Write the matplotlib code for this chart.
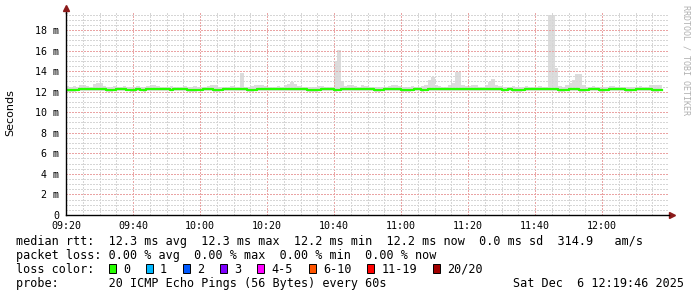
import numpy as np
import matplotlib
matplotlib.use('Agg')
import matplotlib.pyplot as plt
from matplotlib.patches import Rectangle

# one value per minute, starting 09:20
median_rtt = [
    12.2, 12.2, 12.2, 12.2, 12.3, 12.3, 12.3, 12.3, 12.3, 12.3, 12.3, 12.3, 12.2, 12.2, 12.2, 12.3, 12.3, 12.3, 12.2, 12.2,
    12.2, 12.3, 12.2, 12.2, 12.3, 12.3, 12.3, 12.3, 12.3, 12.3, 12.3, 12.2, 12.3, 12.3, 12.3, 12.3, 12.2, 12.2, 12.2, 12.2,
    12.2, 12.3, 12.3, 12.3, 12.2, 12.2, 12.2, 12.3, 12.3, 12.3, 12.3, 12.3, 12.3, 12.3, 12.2, 12.2, 12.2, 12.3, 12.3, 12.3,
    12.3, 12.3, 12.3, 12.3, 12.3, 12.3, 12.3, 12.3, 12.3, 12.3, 12.3, 12.3, 12.2, 12.2, 12.2, 12.2, 12.3, 12.3, 12.3, 12.3,
    12.2, 12.2, 12.3, 12.3, 12.3, 12.3, 12.3, 12.3, 12.3, 12.3, 12.3, 12.3, 12.2, 12.2, 12.2, 12.3, 12.3, 12.3, 12.3, 12.3,
    12.2, 12.2, 12.2, 12.2, 12.3, 12.3, 12.2, 12.2, 12.3, 12.3, 12.3, 12.3, 12.3, 12.3, 12.3, 12.3, 12.3, 12.3, 12.3, 12.3,
    12.3, 12.3, 12.3, 12.3, 12.3, 12.3, 12.3, 12.3, 12.3, 12.3, 12.2, 12.2, 12.3, 12.2, 12.2, 12.2, 12.2, 12.3, 12.3, 12.3,
    12.3, 12.3, 12.3, 12.3, 12.3, 12.3, 12.3, 12.2, 12.2, 12.2, 12.3, 12.3, 12.3, 12.2, 12.2, 12.2, 12.3, 12.3, 12.3, 12.2,
    12.2, 12.2, 12.3, 12.3, 12.3, 12.3, 12.3, 12.2, 12.2, 12.2, 12.3, 12.3, 12.3, 12.3, 12.3, 12.2, 12.2, 12.2,
]
smoke_max = [
    12.55, 12.5, 12.55, 12.5, 12.6, 12.6, 12.55, 12.5, 12.7, 12.85, 12.85, 12.55, 12.5, 12.5, 12.55, 12.5, 12.5, 12.55, 12.5, 12.5,
    12.5, 12.55, 12.5, 12.5, 12.55, 12.6, 12.6, 12.55, 12.5, 12.5, 12.5, 12.55, 12.5, 12.5, 12.5, 12.55, 12.5, 12.5, 12.55, 12.5,
    12.5, 12.5, 12.55, 12.6, 12.6, 12.5, 12.5, 12.5, 12.5, 12.55, 12.5, 12.5, 13.8, 12.5, 12.5, 12.55, 12.6, 12.6, 12.6, 12.55,
    12.5, 12.5, 12.5, 12.55, 12.5, 12.6, 12.75, 12.95, 12.7, 12.55, 12.5, 12.5, 12.5, 12.5, 12.5, 12.55, 12.55, 12.5, 12.5, 12.5,
    15.0, 16.05, 13.0, 12.55, 12.6, 12.6, 12.55, 12.5, 12.6, 12.55, 12.5, 12.5, 12.5, 12.5, 12.5, 12.5, 12.55, 12.6, 12.6, 12.55,
    12.5, 12.5, 12.5, 12.55, 12.5, 12.5, 12.55, 12.6, 13.1, 13.4, 12.6, 12.55, 12.5, 12.5, 12.6, 12.8, 13.9, 13.9, 12.6, 12.55,
    12.55, 12.6, 12.6, 12.5, 12.5, 12.6, 12.9, 13.2, 12.6, 12.55, 12.5, 12.5, 12.5, 12.55, 12.5, 12.5, 12.5, 12.55, 12.5, 12.5,
    12.5, 12.55, 12.5, 12.5, 19.45, 19.45, 14.3, 12.55, 12.5, 12.6, 12.8, 13.1, 13.7, 13.7, 12.6, 12.5, 12.5, 12.55, 12.5, 12.5,
    12.5, 12.5, 12.55, 12.55, 12.5, 12.5, 12.5, 12.5, 12.5, 12.5, 12.5, 12.55, 12.5, 12.5, 12.6, 12.65, 12.65, 12.65,
]
smoke_min = [
    12.0, 12.0, 12.0, 12.05, 12.1, 12.1, 12.1, 12.1, 12.1, 12.1, 12.1, 12.1, 12.0, 12.0, 12.05, 12.1, 12.1, 12.1, 12.05, 12.0,
    12.0, 12.1, 12.05, 12.0, 12.1, 12.1, 12.1, 12.1, 12.1, 12.1, 12.1, 12.05, 12.1, 12.1, 12.1, 12.1, 12.0, 12.0, 12.0, 12.05,
    12.05, 12.1, 12.1, 12.1, 12.0, 12.0, 12.05, 12.1, 12.1, 12.1, 12.1, 12.1, 12.1, 12.1, 12.0, 12.0, 12.05, 12.1, 12.1, 12.1,
    12.1, 12.1, 12.1, 12.1, 12.1, 12.1, 12.1, 12.1, 12.1, 12.1, 12.1, 12.1, 12.0, 12.0, 12.0, 12.05, 12.1, 12.1, 12.1, 12.1,
    12.0, 12.05, 12.1, 12.1, 12.1, 12.1, 12.1, 12.1, 12.1, 12.1, 12.1, 12.1, 12.0, 12.0, 12.05, 12.1, 12.1, 12.1, 12.1, 12.1,
    12.0, 12.0, 12.0, 12.05, 12.1, 12.1, 12.0, 12.05, 12.1, 12.1, 12.1, 12.1, 12.1, 12.1, 12.1, 12.1, 12.1, 12.1, 12.1, 12.1,
    12.1, 12.1, 12.1, 12.1, 12.1, 12.1, 12.1, 12.1, 12.1, 12.1, 12.0, 12.05, 12.1, 12.0, 12.0, 12.0, 12.05, 12.1, 12.1, 12.1,
    12.1, 12.1, 12.1, 12.1, 12.1, 12.1, 12.1, 12.0, 12.0, 12.05, 12.1, 12.1, 12.1, 12.0, 12.0, 12.05, 12.1, 12.1, 12.1, 12.0,
    12.0, 12.05, 12.1, 12.1, 12.1, 12.1, 12.1, 12.0, 12.0, 12.05, 12.1, 12.1, 12.1, 12.1, 12.1, 12.0, 12.0, 12.05,
]

x_tick_min = [0, 20, 40, 60, 80, 100, 120, 140, 160]
x_tick_labels = ['09:20', '09:40', '10:00', '10:20', '10:40', '11:00', '11:20', '11:40', '12:00']
y_ticks = [0, 2, 4, 6, 8, 10, 12, 14, 16, 18]
y_tick_labels = ['0', '2 m', '4 m', '6 m', '8 m', '10 m', '12 m', '14 m', '16 m', '18 m']

loss_labels = ['0', '1', '2', '3', '4-5', '6-10', '11-19', '20/20']
loss_colors = ['#26ff00', '#00b8ff', '#0059ff', '#7e00ff', '#ff00ff', '#ff5500', '#ff0000', '#a10000']

stats_line1 = 'median rtt:  12.3 ms avg  12.3 ms max  12.2 ms min  12.2 ms now  0.0 ms sd  314.9   am/s'
stats_line2 = 'packet loss: 0.00 % avg  0.00 % max  0.00 % min  0.00 % now'
probe_line = 'probe:       20 ICMP Echo Pings (56 Bytes) every 60s'
stamp = 'Sat Dec  6 12:19:46 2025'

W, H = 697, 297
MONO = 'DejaVu Sans Mono'
fig = plt.figure(figsize=(W / 100, H / 100), dpi=100)
fig.patch.set_facecolor('white')
ax = fig.add_axes([66 / W, 1 - 215 / H, (669 - 66) / W, (215 - 13) / H])

t = np.arange(len(median_rtt) + 1)
ax.fill_between(t, smoke_min + smoke_min[-1:], smoke_max + smoke_max[-1:], step='post',
                color='#dcdcdc', lw=0, zorder=1)
ax.step(t, median_rtt + median_rtt[-1:], where='post', color='#26ff00', lw=1.6, zorder=3)

ax.set_xlim(0, 180)
ax.set_ylim(0, 19.65)
ax.set_xticks(x_tick_min)
ax.set_xticklabels(x_tick_labels, family=MONO, fontsize=7.2)
ax.set_xticks(np.arange(0, 181, 5), minor=True)
ax.set_yticks(y_ticks)
ax.set_yticklabels(y_tick_labels, family=MONO, fontsize=7.2)
ax.set_yticks(np.arange(0, 19.6, 0.5), minor=True)
ax.tick_params(which='both', length=0)
ax.tick_params(axis='x', pad=4.5)
ax.tick_params(axis='y', pad=5)

# rrdtool style dotted grid
ax.grid(which='minor', color='#d6d6d6', linestyle=(0, (1.4, 1.4)), lw=0.72, zorder=2)
ax.grid(which='major', color='#eaa4a4', linestyle=(0, (1.4, 1.4)), lw=0.72, zorder=2)
ax.set_axisbelow(False)
for tk in (ax.xaxis.get_major_ticks() + ax.yaxis.get_major_ticks()
           + ax.xaxis.get_minor_ticks() + ax.yaxis.get_minor_ticks()):
    tk.gridline.set_antialiased(False)

for s in ['top', 'right']:
    ax.spines[s].set_visible(False)
for s in ['left', 'bottom']:
    ax.spines[s].set_color('black')
    ax.spines[s].set_linewidth(1.0)
    ax.spines[s].set_zorder(4)

# axis arrows
ax.plot([1.005], [0], marker='>', color='#8b1a1a', markersize=4, transform=ax.transAxes, clip_on=False)
ax.plot([0, 0], [1, 1.02], color='black', lw=1.0, transform=ax.transAxes, clip_on=False)
ax.plot([0], [1.025], marker='^', color='#8b1a1a', markersize=4, transform=ax.transAxes, clip_on=False)

fig.text(10 / W, 1 - 113 / H, 'Seconds', rotation=90, ha='center', va='center', fontsize=8)
fig.text(686 / W, 1 - 5 / H, 'RRDTOOL / TOBI OETIKER', rotation=270, ha='center', va='top',
         family=MONO, fontsize=6, color='#b0b0b0')

def px(x, y):
    return x / W, 1 - y / H

cw = 7.11  # char width in px
fig.text(*px(16, 241.5), stats_line1, family=MONO, fontsize=8.5, va='center')
fig.text(*px(16, 255.5), stats_line2, family=MONO, fontsize=8.5, va='center')
fig.text(*px(16, 269.3), 'loss color:', family=MONO, fontsize=8.5, va='center')
bx = 109
for lab, col in zip(loss_labels, loss_colors):
    fig.add_artist(Rectangle(px(bx, 273.3), 7 / W, 9 / H, transform=fig.transFigure,
                             facecolor=col, edgecolor='black', lw=0.7))
    fig.text(*px(bx + 14, 269.3), lab, family=MONO, fontsize=8.5, va='center')
    bx = bx + 14 + len(lab) * cw + 16
fig.text(*px(16, 283.3), probe_line, family=MONO, fontsize=8.5, va='center')
fig.text(*px(513, 283.3), stamp, family=MONO, fontsize=8.5, va='center')

fig.savefig('out.png', dpi=100)
